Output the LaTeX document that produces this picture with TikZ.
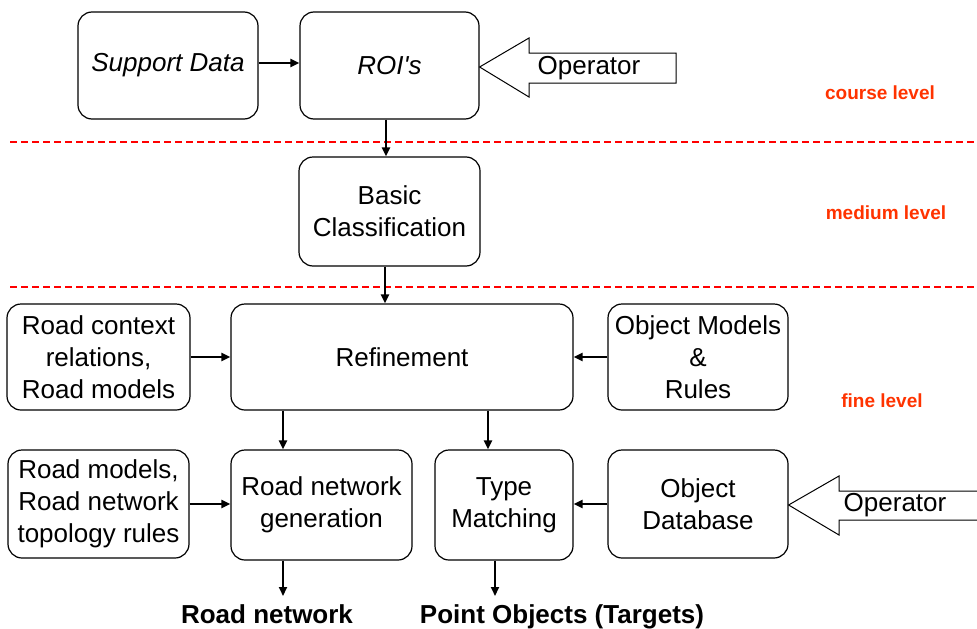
\documentclass[tikz,border=0pt]{standalone}
\usepackage{fontspec}
\setmainfont{Liberation Sans}
\usetikzlibrary{arrows.meta}
\definecolor{lvlred}{RGB}{255,51,0}
\tikzset{
  box/.style={draw=black, line width=1.2pt, rounded corners=14pt, align=center, inner sep=2pt,
    font=\fontsize{26}{32}\selectfont},
  conn/.style={line width=2pt, -{Triangle[length=9pt,width=8pt]}},
  lvl/.style={text=lvlred, font=\bfseries\fontsize{19}{22}\selectfont},
  outlbl/.style={font=\bfseries\fontsize{26}{30}\selectfont, anchor=base},
  sep/.style={draw=red, line width=1.5pt, dash pattern=on 7pt off 4pt},
  oparrow/.style={draw=black, line width=1pt, fill=white},
  optext/.style={font=\fontsize{26}{30}\selectfont}
}
\begin{document}
\begin{tikzpicture}[x=1pt,y=-1pt]
\useasboundingbox (0,0) rectangle (977,629);
% separators
\draw[sep] (10,142) -- (977,142);
\draw[sep] (10,287) -- (977,287);
% boxes
\node[box, minimum width=180pt, minimum height=107pt] (sup) at (168,65.5) {\itshape Support Data};
\node[box, minimum width=179pt, minimum height=107pt] (roi) at (389.5,65.5) {\itshape ROI\textquotesingle s};
\node[box, minimum width=181pt, minimum height=109pt] (basic) at (389.5,211.5) {Basic\\Classification};
\node[box, minimum width=183pt, minimum height=106pt] (ctx) at (98.5,357) {Road context\\relations,\\Road models};
\node[box, minimum width=342pt, minimum height=106pt] (ref) at (402,357) {Refinement};
\node[box, minimum width=180pt, minimum height=106pt] (objm) at (698,357) {Object Models\\\&\\Rules};
\node[box, minimum width=181pt, minimum height=108pt] (rm) at (98.5,504) {Road models,\\Road network\\topology rules};
\node[box, minimum width=181pt, minimum height=110pt] (rng) at (321.5,505) {Road network\\generation};
\node[box, minimum width=138pt, minimum height=110pt] (tm) at (504,505) {Type\\Matching};
\node[box, minimum width=180pt, minimum height=108pt] (odb) at (698,504) {Object\\Database};
% operator arrows
\draw[oparrow] (roi.east) ++(0,1.5) -- (529,38) -- (529,53) -- (676,53) -- (676,83) -- (529,83) -- (529,97) -- cycle;
\node[optext] (op1) at (589,68) {Operator};
\draw[oparrow] (odb.east) ++(0,1) -- (839,476) -- (839,491) -- (980,491) -- (980,520) -- (839,520) -- (839,535) -- cycle;
\node[optext] (op2) at (895,505) {Operator};
% level labels
\node[lvl] (l1) at (880,93) {course level};
\node[lvl] (l2) at (886,213) {medium level};
\node[lvl] (l3) at (882,401) {fine level};
% outputs
\node[outlbl] (out1) at (267,623) {Road network};
\node[outlbl] (out2) at (562,623) {Point Objects (Targets)};
\coordinate (e1) at (283,596);
\coordinate (e2) at (495,596);
% connectors
\draw[conn] (sup.east |- 0,63) -- (roi.west |- 0,63);
\draw[conn] (roi.south -| 386,0) -- (basic.north -| 386,0);
\draw[conn] (basic.south -| 385,0) -- (ref.north -| 385,0);
\draw[conn] (ctx.east) -- (ref.west);
\draw[conn] (objm.west) -- (ref.east);
\draw[conn] (ref.south -| 283,0) -- (rng.north -| 283,0);
\draw[conn] (ref.south -| 488,0) -- (tm.north -| 488,0);
\draw[conn] (rm.east) -- (rng.west |- rm.east);
\draw[conn] (odb.west) -- (tm.east |- odb.west);
\draw[conn] (rng.south -| e1) -- (e1);
\draw[conn] (tm.south -| e2) -- (e2);
\end{tikzpicture}
\end{document}
